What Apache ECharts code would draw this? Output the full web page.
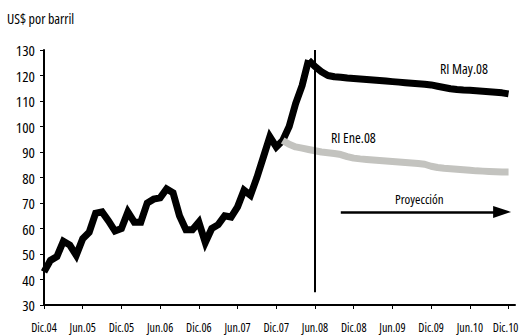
<!DOCTYPE html>
<html>
<head>
<meta charset="utf-8">
<script src="https://cdn.jsdelivr.net/npm/echarts@6/dist/echarts.min.js"></script>
<style>
html,body{margin:0;padding:0;background:#fff;}
#c{width:520px;height:336px;}
#c svg text{font-stretch:condensed !important;}
</style>
</head>
<body>
<div id="c"></div>
<script>
// Monthly categories Dic.04 .. Ene.11 (index 0 = Dic.04)
var tickLabels = ['Dic.04','Jun.05','Dic.05','Jun.06','Dic.06','Jun.07','Dic.07','Jun.08','Dic.08','Jun.09','Dic.09','Jun.10','Dic.10'];
var nMonths = 74;

// Historical price (Dic.04 .. May.08), US$ per barrel
var historico = [43,47.5,49,55,53.5,49.5,56,58.5,66,66.5,63,59,60,66.5,62.5,62.5,70,71.5,72,75.5,74,65,59.5,59.5,62.5,54.5,60,61.5,65,64.5,68.5,75,73,80,88,96,92,94.5,100,109,116,126];
var histStart = 0;

// Projection RI May.08 (starting May.08, index 41)
var proyMay = [126,123.5,121.5,120,119.5,119.3,119.0,118.8,118.6,118.4,118.2,118.0,117.8,117.6,117.4,117.2,117.0,116.8,116.6,116.3,115.8,115.3,114.8,114.5,114.3,114.2,114.0,113.8,113.6,113.4,113.2,112.8];
var proyMayStart = 41;

// Projection RI Ene.08 (starting index 37)
var proyEne = [94.5,93,92,91.5,91,90.5,90,89.7,89.4,89,88.2,87.6,87.3,87.1,86.9,86.7,86.5,86.3,86.1,85.9,85.7,85.5,85.2,84.4,83.9,83.6,83.4,83.2,83.0,82.8,82.6,82.5,82.4,82.3,82.2,82.2];
var proyEneStart = 37;

var markJun08 = 42;          // vertical line position
var arrowFrom = 46, arrowTo = 71, arrowLevel = 66.5;

var cats = [];
for (var i = 0; i < nMonths; i++) {
  cats.push(i % 6 === 0 ? tickLabels[i / 6] : '');
}
var lastTickIdx = (tickLabels.length - 1) * 6;
function pad(arr, start) {
  var out = [];
  for (var i = 0; i < nMonths; i++) {
    var k = i - start;
    out.push(k >= 0 && k < arr.length ? arr[k] : null);
  }
  return out;
}

var FONT = '"Open Sans", "DejaVu Sans Condensed", sans-serif';
var chart = echarts.init(document.getElementById('c'), null, {renderer: 'svg'});
chart.setOption({
  animation: false,
  backgroundColor: '#fff',
  grid: {left: 44, right: 5, top: 50, bottom: 31, containLabel: false, outerBoundsMode: 'none'},
  xAxis: {
    type: 'category',
    data: cats,
    boundaryGap: false,
    axisLine: {lineStyle: {color: '#000', width: 2}},
    axisTick: {show: true, interval: function (idx) { return idx % 6 === 0; }, length: 4, lineStyle: {color: '#000', width: 1}},
    axisLabel: {
      interval: function (idx) { return idx % 6 === 0; },
      showMinLabel: true, showMaxLabel: true,
      formatter: function (val, idx) { return idx === lastTickIdx ? '{last|' + val + '}' : val; },
      rich: {last: {fontFamily: FONT, fontSize: 12, color: '#000', padding: [0, 6, 0, 0]}},
      color: '#000', fontFamily: FONT, fontSize: 12, margin: 16, hideOverlap: false
    },
    splitLine: {show: false}
  },
  yAxis: {
    type: 'value',
    min: 30, max: 130, interval: 10,
    axisLine: {show: true, lineStyle: {color: '#000', width: 2}},
    axisTick: {show: true, length: 4, lineStyle: {color: '#000', width: 1}},
    axisLabel: {color: '#000', fontFamily: FONT, fontSize: 15, margin: 9, showMinLabel: true, showMaxLabel: true},
    splitLine: {show: false}
  },
  series: [
    {
      name: 'Histórico', type: 'line', data: pad(historico, histStart),
      showSymbol: false, symbol: 'none', connectNulls: false,
      lineStyle: {color: '#000', width: 7, join: 'miter'}, z: 3
    },
    {
      name: 'RI May.08', type: 'line', data: pad(proyMay, proyMayStart),
      showSymbol: false, symbol: 'none',
      lineStyle: {color: '#000', width: 7}, z: 3
    },
    {
      name: 'RI Ene.08', type: 'line', data: pad(proyEne, proyEneStart),
      showSymbol: false, symbol: 'none',
      lineStyle: {color: '#c3c3bf', width: 7}, z: 4
    },
    {
      name: 'marks', type: 'line', data: [], z: 6,
      markLine: {
        silent: true, animation: false,
        label: {show: false},
        data: [
          [{coord: [markJun08, 130], symbol: 'none'}, {coord: [markJun08, 35], symbol: 'none', lineStyle: {color: '#000', width: 2, type: 'solid'}}],
          [{coord: [arrowFrom, arrowLevel], symbol: 'none'}, {coord: [arrowTo, arrowLevel], symbol: 'triangle', symbolSize: [12, 18], lineStyle: {color: '#000', width: 2.5, type: 'solid'}}]
        ],
        lineStyle: {color: '#000', width: 2, type: 'solid'}
      }
    }
  ],
  graphic: [
    {type: 'text', left: 7, top: 11, style: {text: 'US$ por barril', fontFamily: FONT, fontSize: 14, fill: '#000'}},
    {type: 'text', left: 440, top: 61, style: {text: 'RI May.08', fontFamily: FONT, fontSize: 14, fill: '#000'}},
    {type: 'text', left: 331, top: 130, style: {text: 'RI Ene.08', fontFamily: FONT, fontSize: 14, fill: '#000'}},
    {type: 'text', left: 395, top: 192, style: {text: 'Proyección', fontFamily: FONT, fontSize: 13, fill: '#000'}}
  ]
});
</script>
</body>
</html>
